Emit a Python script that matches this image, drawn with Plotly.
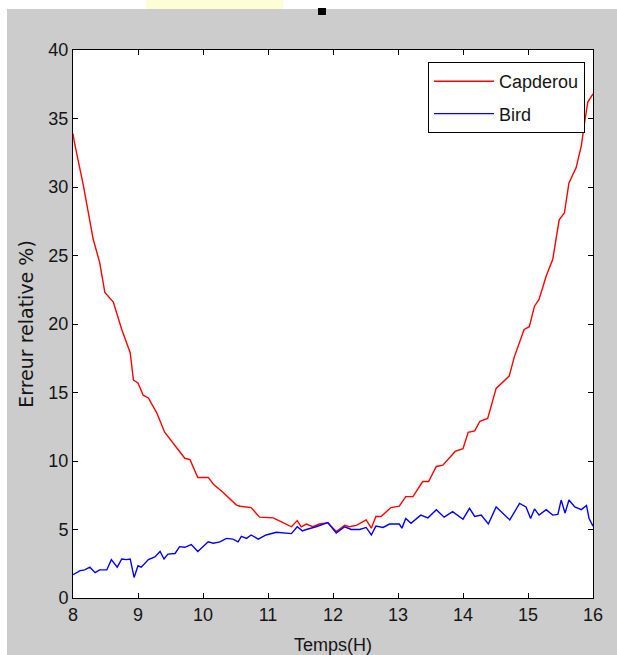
import plotly.graph_objects as go

# ---- data ----
capderou_hours = [8.00, 8.02, 8.16, 8.31, 8.41, 8.49, 8.62, 8.75, 8.88, 8.93, 9.00, 9.08, 9.16, 9.29,
                  9.41, 9.54, 9.72, 9.80, 9.92, 10.08, 10.16, 10.31, 10.51, 10.57, 10.74, 10.87, 11.08,
                  11.23, 11.36, 11.45, 11.51, 11.59, 11.69, 11.79, 11.92, 12.05, 12.18, 12.25, 12.36,
                  12.51, 12.59, 12.66, 12.74, 12.89, 13.02, 13.12, 13.23, 13.38, 13.47, 13.59, 13.69,
                  13.88, 14.00, 14.08, 14.18, 14.26, 14.38, 14.51, 14.71, 14.79, 14.94, 15.02, 15.10,
                  15.17, 15.28, 15.38, 15.48, 15.56, 15.63, 15.74, 15.82, 15.87, 15.92, 16.00]
capderou_err = [33.9, 33.3, 30.1, 26.2, 24.5, 22.3, 21.6, 19.6, 17.9, 15.9, 15.7, 14.8, 14.6, 13.5,
                12.1, 11.3, 10.2, 10.1, 8.8, 8.8, 8.3, 7.7, 6.8, 6.7, 6.6, 5.9, 5.85,
                5.5, 5.2, 5.65, 5.2, 5.4, 5.2, 5.4, 5.5, 4.85, 5.3, 5.2, 5.3,
                5.7, 5.1, 5.95, 5.95, 6.6, 6.7, 7.4, 7.4, 8.5, 8.5, 9.6, 9.7,
                10.7, 10.9, 12.1, 12.2, 12.9, 13.1, 15.3, 16.2, 17.6, 19.6, 19.8, 21.3,
                21.8, 23.5, 24.7, 27.6, 28.1, 30.3, 31.4, 33.0, 34.7, 36.2, 36.8]

bird_hours = [8.00, 8.11, 8.18, 8.26, 8.34, 8.41, 8.52, 8.59, 8.68, 8.75, 8.82, 8.88, 8.94, 9.00,
              9.05, 9.16, 9.26, 9.34, 9.40, 9.46, 9.57, 9.64, 9.72, 9.82, 9.92, 10.08, 10.16, 10.26,
              10.36, 10.46, 10.54, 10.59, 10.67, 10.74, 10.85, 10.97, 11.13, 11.23, 11.36, 11.45,
              11.53, 11.59, 11.74, 11.92, 12.05, 12.18, 12.28, 12.41, 12.51, 12.59, 12.66, 12.77,
              12.87, 13.02, 13.06, 13.12, 13.20, 13.35, 13.46, 13.59, 13.71, 13.84, 14.00, 14.10,
              14.18, 14.28, 14.39, 14.51, 14.61, 14.72, 14.87, 14.97, 15.04, 15.10, 15.17, 15.28,
              15.38, 15.46, 15.51, 15.57, 15.63, 15.72, 15.82, 15.90, 15.94, 16.00]
bird_err = [1.7, 2.0, 2.05, 2.25, 1.85, 2.05, 2.05, 2.8, 2.25, 2.85, 2.8, 2.85, 1.5, 2.35,
            2.25, 2.8, 3.0, 3.4, 2.85, 3.2, 3.25, 3.75, 3.7, 3.9, 3.4, 4.1, 4.0, 4.1,
            4.35, 4.3, 4.1, 4.5, 4.35, 4.6, 4.3, 4.6, 4.8, 4.75, 4.7, 5.2,
            4.9, 5.0, 5.2, 5.5, 4.75, 5.2, 5.0, 5.0, 5.15, 4.6, 5.25, 5.15,
            5.4, 5.4, 5.1, 5.8, 5.45, 6.05, 5.85, 6.45, 5.9, 6.3, 5.75, 6.55,
            5.95, 6.05, 5.4, 6.65, 6.2, 5.7, 6.9, 6.65, 5.8, 6.5, 6.05, 6.45,
            6.05, 6.1, 7.15, 6.2, 7.15, 6.65, 6.45, 6.75, 5.8, 5.25]

series_names = ["Capderou", "Bird"]
x_ticks = [8, 9, 10, 11, 12, 13, 14, 15, 16]
y_ticks = [0, 5, 10, 15, 20, 25, 30, 35, 40]
x_title = "Temps(H)"
y_title = "Erreur relative %)"

# ---- layout geometry (pixels) ----
W, H = 617, 655
L, R, T, B = 73, 24, 50, 57
pw, ph = W - L - R, H - T - B

def px(x):
    return (x - L) / pw

def py(y):
    return (H - B - y) / ph

SANS = "Liberation Sans Narrow, Arial Narrow, Arial, Liberation Sans, sans-serif"
TXT = "#151515"

fig = go.Figure()
fig.add_trace(go.Scatter(x=capderou_hours, y=capderou_err, mode="lines", name=series_names[0],
                         legendgroup="a", line=dict(color="#ff0000", width=1.4)))
fig.add_trace(go.Scatter(x=bird_hours, y=bird_err, mode="lines", name=series_names[1],
                         legendgroup="b", line=dict(color="#0000ff", width=1.4)))

axis_common = dict(showline=True, linecolor="black", linewidth=1, mirror="ticks",
                   ticks="inside", ticklen=5, tickcolor="black", showgrid=False, zeroline=False,
                   automargin=False,
                   tickfont=dict(family=SANS, size=18, color=TXT))

fig.update_layout(
    width=W, height=H,
    margin=dict(l=L, r=R, t=T, b=B, pad=0),
    paper_bgcolor="#cccccc", plot_bgcolor="white",
    showlegend=True,
    xaxis=dict(range=[8, 16], tickvals=x_ticks, ticktext=[str(v) for v in x_ticks],
               title=dict(text=x_title, font=dict(family=SANS, size=18, color=TXT), standoff=14),
               **axis_common),
    yaxis=dict(range=[0, 40], tickvals=y_ticks, ticktext=[str(v) for v in y_ticks],
               title=dict(text=y_title, font=dict(family="DejaVu Sans", size=19, color=TXT), standoff=9),
               **axis_common),
    legend=dict(x=px(428), y=py(62), xanchor="left", yanchor="top",
                bgcolor="white", bordercolor="black", borderwidth=1,
                font=dict(family=SANS, size=18, color=TXT),
                traceorder="grouped", itemwidth=60, tracegroupgap=6),
    shapes=[
        dict(type="rect", xref="paper", yref="paper", x0=px(-5), x1=px(W + 5), y0=py(9), y1=py(-5),
             fillcolor="white", line=dict(width=0), layer="below"),
        dict(type="rect", xref="paper", yref="paper", x0=px(-5), x1=px(7), y0=py(H + 5), y1=py(-5),
             fillcolor="white", line=dict(width=0), layer="below"),
        dict(type="rect", xref="paper", yref="paper", x0=px(146), x1=px(283), y0=py(9), y1=py(0),
             fillcolor="#fdfdd6", line=dict(width=0), layer="below"),
        dict(type="rect", xref="paper", yref="paper", x0=px(318), x1=px(326), y0=py(15), y1=py(8),
             fillcolor="black", line=dict(width=0), layer="below"),
    ],
)

fig.write_html("out.html")
